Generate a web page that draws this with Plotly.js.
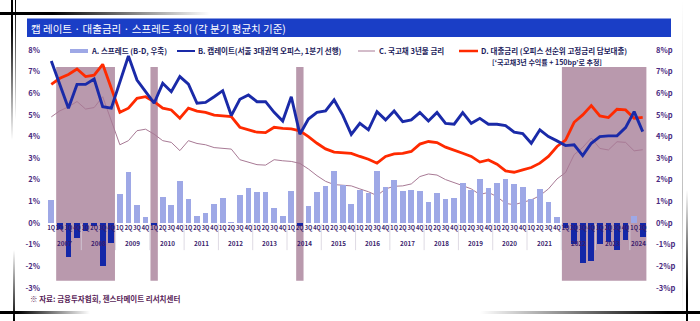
<!DOCTYPE html>
<html><head><meta charset="utf-8">
<script src="https://cdn.plot.ly/plotly-3.0.1.min.js"></script>
<style>
html,body{margin:0;padding:0;background:#fff;}
#wrap{position:relative;width:700px;height:321px;overflow:hidden;}
#chart{width:700px;height:321px;}
.deco{position:absolute;pointer-events:none;}
</style></head>
<body><div id="wrap"><div id="chart"></div>
<div class="deco" style="left:0;top:12px;width:210px;height:3px;background:linear-gradient(to right,#000 0%,#000 25%,rgba(0,0,0,0) 100%);"></div>
<div class="deco" style="left:11px;top:0;width:2px;height:140px;background:linear-gradient(to bottom,#000 0%,#000 20%,rgba(0,0,0,0) 100%);"></div>
<div class="deco" style="left:15px;top:0;width:1px;height:120px;background:linear-gradient(to bottom,#000 0%,rgba(0,0,0,0) 100%);"></div>
<div class="deco" style="left:13px;top:250px;width:2px;height:71px;background:linear-gradient(to top,#000 0%,rgba(0,0,0,0) 100%);"></div>
<div class="deco" style="left:0;top:311px;width:90px;height:3px;background:linear-gradient(to right,#000 0%,#000 20%,rgba(0,0,0,0) 100%);"></div>
<div class="deco" style="left:480px;top:311px;width:220px;height:3px;background:linear-gradient(to left,#000 0%,#000 15%,rgba(0,0,0,0) 100%);"></div>
<div class="deco" style="left:686px;top:190px;width:2px;height:131px;background:linear-gradient(to top,#000 0%,#000 20%,rgba(0,0,0,0) 100%);"></div>
<div class="deco" style="left:682px;top:0;width:1px;height:321px;background:linear-gradient(to bottom,rgba(0,0,0,0) 0%,rgba(0,0,0,0.25) 60%,rgba(0,0,0,0) 100%);"></div>
</div>
<script>
// ---- data ----
const years = [2007,2008,2009,2010,2011,2012,2013,2014,2015,2016,2017,2018,2019,2020,2021,2022,2023,2024];
const quarterLabels = ['1Q','2Q','3Q','4Q'];
const lastYearQuarters = 2;

// A. 스프레드 (B-D, 우축)
const spreadA = [1.08,-0.27,-1.57,-0.68,-0.35,-0.15,-1.98,-0.93,
 1.36,2.38,0.83,0.30,-0.08,1.20,0.85,1.95,1.11,0.35,0.47,0.87,
 1.16,0.06,1.30,1.61,1.43,1.46,0.69,0.33,1.47,-0.15,0.79,1.44,
 1.72,2.39,1.74,0.87,1.55,1.38,2.39,1.69,1.99,1.50,1.52,1.48,
 0.98,1.39,1.11,1.16,1.85,1.51,2.04,1.63,1.86,2.05,1.82,1.68,
 1.12,1.58,0.96,0.30,-0.22,-0.98,-1.86,-1.73,-0.97,-0.87,-1.23,-0.80,0.31,-0.64];
// B. 캡레이트
const capRateB = [7.49,6.42,5.31,6.41,6.41,6.66,5.38,5.31,
 6.50,7.72,6.61,6.10,5.54,6.46,6.07,6.77,6.42,5.54,5.58,5.84,
 6.12,4.97,5.72,5.92,5.61,5.61,5.12,4.72,5.84,4.11,4.81,5.12,
 5.18,5.69,4.99,4.10,4.61,4.31,5.15,4.77,5.18,4.69,4.77,5.11,
 4.72,5.11,4.61,4.57,5.11,4.61,4.84,4.57,4.57,4.51,4.20,4.14,
 3.69,4.31,4.00,3.80,3.58,3.62,3.12,3.69,4.00,4.03,4.03,4.41,5.15,4.23];
// C. 국고채 3년물 금리
const treasuryC = [4.91,5.19,5.37,5.62,5.27,5.34,5.84,4.75,
 3.62,3.81,4.27,4.34,4.11,3.81,3.73,3.35,3.81,3.68,3.62,3.49,
 3.45,3.42,2.93,2.82,2.70,2.68,2.93,2.88,2.85,2.76,2.50,2.19,
 1.93,1.78,1.74,1.72,1.58,1.45,1.27,1.58,1.70,1.72,1.81,2.15,
 2.27,2.22,2.01,1.88,1.73,1.58,1.32,1.42,1.22,0.91,0.85,0.96,
 1.07,1.27,1.58,2.04,2.34,3.16,3.50,3.93,3.45,3.38,3.76,3.73,3.34,3.39];
// D. 대출금리
const loanRateD = [6.41,6.69,6.87,7.12,6.77,6.84,7.34,6.25,
 5.12,5.31,5.77,5.84,5.61,5.31,5.23,4.85,5.31,5.18,5.12,4.99,
 4.95,4.92,4.43,4.32,4.20,4.18,4.43,4.38,4.35,4.26,4.00,3.69,
 3.43,3.28,3.24,3.22,3.08,2.95,2.77,3.08,3.20,3.22,3.31,3.65,
 3.77,3.72,3.51,3.38,3.23,3.08,2.82,2.92,2.72,2.41,2.35,2.46,
 2.57,2.77,3.08,3.54,3.84,4.66,5.00,5.43,4.95,4.88,5.26,5.23,4.84,4.89];

// shaded periods (start / end quarter)
const shadeStart = ['2007 2Q','2010 1Q','2014 2Q','2022 1Q'];
const shadeEnd   = ['2008 4Q','2010 1Q','2014 2Q','2024 2Q'];

const yTicks = [8,7,6,5,4,3,2,1,0,-1,-2,-3];
const leftTickText = yTicks.map(v => v + '%');
const rightTickText = yTicks.map(v => v + '%p');

// ---- build categories ----
const cats = [], qText = [];
years.forEach((y, yi) => {
  const nq = (yi === years.length - 1) ? lastYearQuarters : 4;
  for (let q = 0; q < nq; q++) { cats.push(y + ' ' + quarterLabels[q]); qText.push(quarterLabels[q]); }
});
const idx = cats.map((c, i) => i);
const catIndex = c => cats.indexOf(c);

// ---- geometry helpers (pixels -> paper) ----
const L = 47, T = 50, W = 600, H = 238;
const px = v => (v - L) / W;
const py = v => (T + H - v) / H;

const FONT = 'Noto Sans CJK KR, Noto Sans, sans-serif';
const purple = '#4a2a80';
const legendCol = '#1c1c5c';

const traces = [
  { type: 'bar', x: idx, y: spreadA, yaxis: 'y2', width: 0.68,
    marker: { color: spreadA.map(v => v < 0 ? '#1327a8' : '#9ea8e6') },
    hoverinfo: 'skip', name: 'A' },
  { type: 'scatter', mode: 'lines', x: idx, y: treasuryC, line: { color: '#a87a95', width: 1 }, name: 'C' },
  { type: 'scatter', mode: 'lines', x: idx, y: loanRateD, line: { color: '#ff2a00', width: 2.8 }, name: 'D' },
  { type: 'scatter', mode: 'lines', x: idx, y: capRateB, line: { color: '#1a2aa8', width: 2.9 }, name: 'B' }
];

const shapes = [];
shadeStart.forEach((s, k) => {
  shapes.push({ type: 'rect', xref: 'x', yref: 'y', layer: 'below',
    x0: catIndex(s) - 0.43, x1: catIndex(shadeEnd[k]) + 0.43, y0: -2.67, y1: 7.22,
    fillcolor: '#b999ad', line: { width: 0 } });
});
// year separators
for (let k = 1; k < years.length; k++) {
  const xs = k * 4 - 0.5;
  shapes.push({ type: 'line', xref: 'x', yref: 'y', x0: xs, x1: xs, y0: -0.05, y1: -1.25,
    line: { color: '#d6d0dc', width: 0.8 } });
}
// title bar
shapes.push({ type: 'rect', xref: 'paper', yref: 'paper', x0: px(27), x1: px(671), y0: py(37), y1: py(18.5),
  fillcolor: '#1a3ec6', line: { width: 0 } });
// legend markers
shapes.push({ type: 'rect', xref: 'paper', yref: 'paper', x0: px(70), x1: px(88), y0: py(53), y1: py(49),
  fillcolor: '#9ea8e6', line: { width: 0 } });
shapes.push({ type: 'line', xref: 'paper', yref: 'paper', x0: px(177), x1: px(195), y0: py(51), y1: py(51),
  line: { color: '#1a2aa8', width: 2 } });
shapes.push({ type: 'line', xref: 'paper', yref: 'paper', x0: px(358), x1: px(375), y0: py(51), y1: py(51),
  line: { color: '#a87a95', width: 1 } });
shapes.push({ type: 'line', xref: 'paper', yref: 'paper', x0: px(459), x1: px(478), y0: py(51), y1: py(51),
  line: { color: '#ff2a00', width: 2.5 } });

const ann = [];
const txt = (x, y, text, opts) => Object.assign({ xref: 'paper', yref: 'paper', x: px(x), y: py(y), text: text,
  showarrow: false, xanchor: 'left', yanchor: 'middle',
  font: { family: FONT, size: 7.5, color: legendCol, weight: 'bold' } }, opts || {});
ann.push(txt(29, 28, '캡 레이트 · 대출금리 · 스프레드 추이 (각 분기 평균치 기준)',
  { font: { family: FONT, size: 10.5, color: '#ffffff' } }));
ann.push(txt(89, 50.5, 'A. 스프레드 (B-D, 우축)'));
ann.push(txt(196, 50.5, 'B. 캡레이트(서울 3대권역 오피스, 1분기 선행)'));
ann.push(txt(377, 50.5, 'C. 국고채 3년물 금리'));
ann.push(txt(479, 50.5, 'D. 대출금리 (오피스 선순위 고정금리 담보대출)'));
ann.push(txt(490, 62, '[‘국고채3년 수익률 + 150bp’로 추정]', { font: { family: FONT, size: 7, color: legendCol, weight: 'bold' } }));
ann.push(txt(28, 298, '※ 자료: 금융투자협회, 젠스타메이트 리서치센터', { font: { family: FONT, size: 7.5, color: '#5a1f5a', weight: 'bold' } }));
// year labels
years.forEach((y, yi) => {
  const nq = (yi === years.length - 1) ? lastYearQuarters : 4;
  ann.push({ xref: 'x', yref: 'y', x: yi * 4 + (nq - 1) / 2, y: 0, yshift: -20, text: String(y), showarrow: false,
    xanchor: 'center', yanchor: 'middle', font: { family: FONT, size: 6.3, color: '#3b1f6e', weight: 'bold' } });
});

const layout = {
  width: 700, height: 321, margin: { l: L, r: 700 - L - W, t: T, b: 321 - T - H, pad: 0 },
  paper_bgcolor: '#ffffff', plot_bgcolor: 'rgba(0,0,0,0)', showlegend: false, bargap: 0,
  font: { family: FONT },
  xaxis: { range: [-0.5, cats.length - 0.5], anchor: 'free', position: 3 / 11,
    tickmode: 'array', tickvals: idx, ticktext: qText, ticks: '', showgrid: false, zeroline: false,
    showline: false, tickfont: { family: FONT, size: 5.6, color: '#3b1f6e', weight: 'bold' }, tickangle: 0 },
  yaxis: { range: [-3, 8], tickmode: 'array', tickvals: yTicks, ticktext: leftTickText, showgrid: false,
    zeroline: false, showline: false, ticks: '', ticklabelstandoff: 6,
    tickfont: { family: FONT, size: 7.5, color: purple, weight: 'bold' } },
  yaxis2: { range: [-3, 8], overlaying: 'y', side: 'right', tickmode: 'array', tickvals: yTicks,
    ticktext: rightTickText, showgrid: false, zeroline: false, showline: false, ticks: '', ticklabelstandoff: 8,
    tickfont: { family: FONT, size: 7.5, color: purple, weight: 'bold' } },
  shapes: shapes, annotations: ann
};

Plotly.newPlot('chart', [traces[0], traces[1], traces[2], traces[3]], layout, { staticPlot: true, displayModeBar: false });
</script></body></html>
